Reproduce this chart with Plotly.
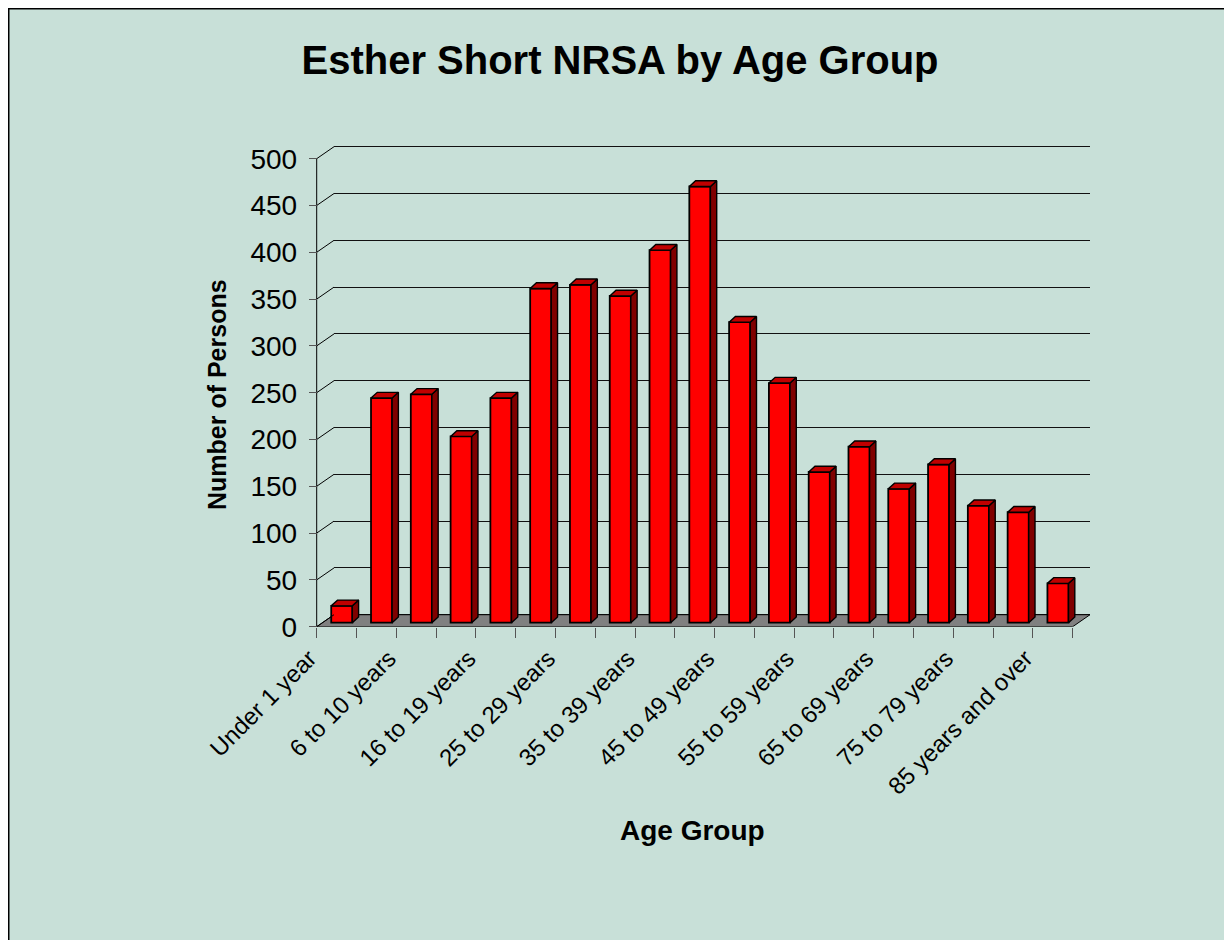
import plotly.graph_objects as go

# ---------------- data ----------------
categories = ["Under 1 year", "1 to 5 years", "6 to 10 years", "11 to 15 years",
              "16 to 19 years", "20 to 24 years", "25 to 29 years", "30 to 34 years",
              "35 to 39 years", "40 to 44 years", "45 to 49 years", "50 to 54 years",
              "55 to 59 years", "60 to 64 years", "65 to 69 years", "70 to 74 years",
              "75 to 79 years", "80 to 84 years", "85 years and over"]
persons = [18, 240, 244, 199, 240, 357, 361, 349, 398, 466, 321, 256,
           161, 188, 143, 169, 125, 118, 42]
y_ticks = [0, 50, 100, 150, 200, 250, 300, 350, 400, 450, 500]
label_idx = list(range(0, len(categories), 2))
label_text = [categories[i] for i in label_idx]

# ---------------- geometry / style ----------------
OFF = 8                      # page body margin of the html file
W, H = 1232 - OFF, 940 - OFF
BG = "#C8E0D8"
FONT = "Liberation Sans, Arial, sans-serif"
n = len(categories)

WALL_DX = 0.435   # back wall offset (category units)
WALL_DY = 12.8    # back wall offset (value units)
BAR_SHIFT = 0.13
BAR_W = 0.53
BAR_BASE = 4.3
DEPTH_DX = 0.158
DEPTH_DY = 6.1
LABEL_SHIFT = -0.68  # rotated labels sit left of the category centre
PX_PER_UNIT = 0.936
PX_PER_CAT = 39.79
X_LO = -0.8          # left end of the front x range (room for first label)
Y_HI = 514           # top of the front y range (room for the top connector)


def fx(p):
    return (p - OFF) / W


def fy(p):
    return 1 - (p - OFF) / H


xs = [i + BAR_SHIFT for i in range(n)]

# side and top faces of the columns, derived from the values
side_x, side_y, top_x, top_y = [], [], [], []
for x, v in zip(xs, persons):
    xl, xr = x - BAR_W / 2, x + BAR_W / 2
    b, t = BAR_BASE, BAR_BASE + v
    side_x += [xr, xr + DEPTH_DX, xr + DEPTH_DX, xr, xr, None]
    side_y += [b, b + DEPTH_DY, t + DEPTH_DY, t, b, None]
    top_x += [xl, xl + DEPTH_DX, xr + DEPTH_DX, xr, xl, None]
    top_y += [t, t + DEPTH_DY, t + DEPTH_DY, t, t, None]

# front value axis line + diagonal connectors to the back wall gridlines
diag_x, diag_y = [-0.5, -0.5, None], [0, y_ticks[-1], None]
for v in y_ticks:
    diag_x += [-0.5, -0.5 + WALL_DX, None]
    diag_y += [v, v + WALL_DY, None]

fig = go.Figure()

# back wall subplot (xy) just for gridlines
fig.add_trace(go.Scatter(x=[0], y=[0], mode="markers", marker=dict(opacity=0),
                         hoverinfo="skip", xaxis="x", yaxis="y"))

# front faces
fig.add_trace(go.Bar(x=xs, y=persons, base=BAR_BASE, width=BAR_W,
                     marker=dict(color="#FF0000", line=dict(color="black", width=1.8)),
                     xaxis="x2", yaxis="y2", name="Persons"))
fig.add_trace(go.Scatter(x=side_x, y=side_y, mode="lines", fill="toself",
                         fillcolor="#800000", line=dict(color="black", width=1.4),
                         hoverinfo="skip", xaxis="x2", yaxis="y2"))
fig.add_trace(go.Scatter(x=top_x, y=top_y, mode="lines", fill="toself",
                         fillcolor="#C00000", line=dict(color="black", width=1.4),
                         hoverinfo="skip", xaxis="x2", yaxis="y2"))
fig.add_trace(go.Scatter(x=diag_x, y=diag_y, mode="lines",
                         line=dict(color="black", width=1),
                         hoverinfo="skip", xaxis="x2", yaxis="y2"))

floor_path = (f"M -0.5,0 L {n - 0.5},0 L {n - 0.5 + WALL_DX},{WALL_DY} "
              f"L {-0.5 + WALL_DX},{WALL_DY} Z")

# pixel placement (page pixels)
wall_y0 = 614.7                       # row of value 0 on back wall
front_x0 = 316.7                      # column of the front value axis
front_y0 = 626.7                      # row of value 0 on front axis
wall_lo, wall_hi = -6, 506

fig.update_layout(
    template="none",
    width=W, height=H, autosize=False,
    margin=dict(l=0, r=0, t=0, b=0, pad=0, autoexpand=False),
    paper_bgcolor=BG, plot_bgcolor="rgba(0,0,0,0)",
    showlegend=False,
    font=dict(family=FONT, color="black"),
    title=dict(text="<b>Esther Short NRSA by Age Group</b>",
               font=dict(size=40, family=FONT, color="black"),
               x=fx(620), y=fy(60), xanchor="center", yanchor="middle",
               xref="paper", yref="paper", automargin=False),
    xaxis=dict(domain=[fx(334), fx(1090)], range=[0, 1], visible=False,
               anchor="y", fixedrange=True, automargin=False),
    yaxis=dict(domain=[fy(wall_y0 - wall_lo * PX_PER_UNIT),
                       fy(wall_y0 - wall_hi * PX_PER_UNIT)],
               range=[wall_lo, wall_hi],
               anchor="x", tickmode="array", tickvals=y_ticks, automargin=False,
               showticklabels=False, ticks="", showgrid=True,
               gridcolor="#111111", gridwidth=1, zeroline=False, showline=False),
    xaxis2=dict(domain=[fx(front_x0 + (X_LO + 0.5) * PX_PER_CAT), fx(1090)],
                range=[X_LO, n - 0.5 + WALL_DX],
                anchor="y2", showgrid=False, zeroline=False, showline=False,
                automargin=False,
                tickmode="array", tickvals=[i + LABEL_SHIFT for i in label_idx],
                ticktext=label_text,
                tickangle=-45, ticks="", ticklabelstandoff=12,
                tickfont=dict(size=24, family=FONT, color="black"),
                minor=dict(tickmode="array",
                           tickvals=[i - 0.5 for i in range(n + 1)],
                           ticks="outside", ticklen=10, tickcolor="#555555",
                           tickwidth=1, showgrid=False)),
    yaxis2=dict(domain=[fy(front_y0), fy(front_y0 - Y_HI * PX_PER_UNIT)],
                range=[0, Y_HI],
                anchor="free", position=fx(front_x0),
                showgrid=False, zeroline=False, automargin=False,
                showline=False,
                tickmode="array", tickvals=y_ticks,
                ticks="outside", ticklen=8, tickcolor="#555555",
                ticklabelstandoff=6,
                tickfont=dict(size=28, family=FONT, color="black")),
    shapes=[
        dict(type="path", path=floor_path, xref="x2", yref="y2", layer="below",
             fillcolor="#808080", line=dict(color="black", width=1)),
        dict(type="rect", xref="paper", yref="paper",
             x0=fx(8.5), x1=fx(1231), y0=-0.02, y1=fy(8.5),
             line=dict(color="black", width=2), fillcolor="rgba(0,0,0,0)"),
    ],
    annotations=[
        dict(text="<b>Number of Persons</b>", xref="paper", yref="paper",
             x=fx(217), y=fy(395), textangle=-90, showarrow=False,
             xanchor="center", yanchor="middle",
             font=dict(size=25, family=FONT, color="black")),
        dict(text="<b>Age Group</b>", xref="paper", yref="paper",
             x=fx(692.5), y=fy(830), showarrow=False,
             xanchor="center", yanchor="middle",
             font=dict(size=28, family=FONT, color="black")),
    ],
)

fig.write_html("out.html")
